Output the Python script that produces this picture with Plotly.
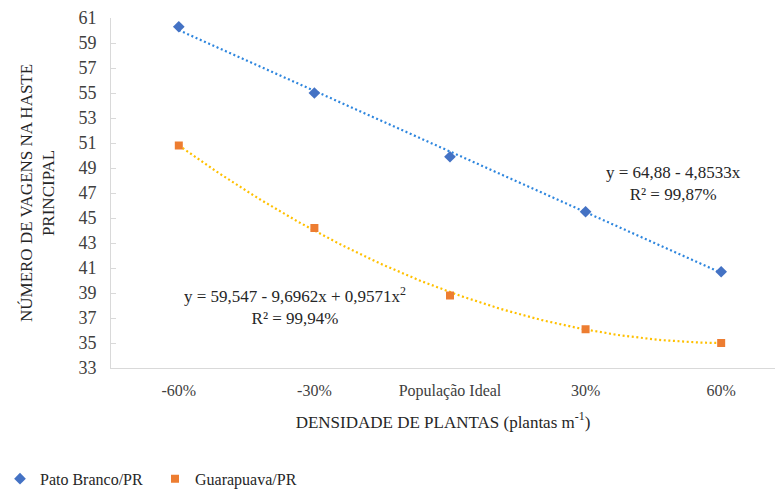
import numpy as np
import plotly.graph_objects as go

# Plant density treatments (category axis)
densidades = ["-60%", "-30%", "População Ideal", "30%", "60%"]

# Number of pods on the main stem, per location
pato_branco = [60.3, 55.0, 49.9, 45.5, 40.7]
guarapuava = [50.8, 44.2, 38.8, 36.1, 35.0]

# Fitted regression coefficients (x = 1..5 for the five densities)
coef_pato = (64.88, -4.8533)
coef_guara = (59.547, -9.6962, 0.9571)

eq_pato = "y = 64,88 - 4,8533x<br>R² = 99,87%"
eq_guara = "y = 59,547 - 9,6962x + 0,9571x<sup>2</sup><br>R² = 99,94%"
y_title = "NÚMERO DE VAGENS NA HASTE<br>PRINCIPAL"

y_ticks = list(range(33, 62, 2))

FONT = "Liberation Serif, Times New Roman, DejaVu Serif, serif"
BLUE_MK = "#4472C4"
ORANGE_MK = "#ED7D31"
BLUE_TR = "#2E86DE"
YELLOW_TR = "#FFC000"

pos = list(range(len(densidades)))
xs = np.linspace(1, 5, 121)
trend_pato = coef_pato[0] + coef_pato[1] * xs
trend_guara = coef_guara[0] + coef_guara[1] * xs + coef_guara[2] * xs ** 2

fig = go.Figure()
fig.add_trace(go.Scatter(x=xs - 1, y=trend_pato, mode="lines", showlegend=False,
                         hoverinfo="skip",
                         line=dict(color=BLUE_TR, width=2.2, dash="2px,2.6px")))
fig.add_trace(go.Scatter(x=xs - 1, y=trend_guara, mode="lines", showlegend=False,
                         hoverinfo="skip",
                         line=dict(color=YELLOW_TR, width=2.2, dash="2px,2.6px")))
fig.add_trace(go.Scatter(x=pos, y=pato_branco, mode="markers", name="Pato Branco/PR",
                         marker=dict(symbol="diamond", size=9, color=BLUE_MK)))
fig.add_trace(go.Scatter(x=pos, y=guarapuava, mode="markers", name="Guarapuava/PR",
                         marker=dict(symbol="square", size=8, color=ORANGE_MK)))

fig.add_annotation(x=3.65, y=47.8, xref="x", yref="y", text=eq_pato, showarrow=False,
                   font=dict(family=FONT, size=17, color="#262626"), align="center")
fig.add_annotation(x=0.86, y=38.0, xref="x", yref="y", text=eq_guara, showarrow=False,
                   font=dict(family=FONT, size=17, color="#262626"), align="center")

# Y-axis title placed beside the tick labels
fig.add_annotation(x=-0.1114, y=0.5, xref="paper", yref="paper", text=y_title,
                   textangle=-90, showarrow=False, xanchor="center", yanchor="middle",
                   font=dict(family=FONT, size=17, color="#262626"), align="center")

fig.update_layout(
    width=775, height=491,
    margin=dict(l=111, r=0, t=18, b=123),
    paper_bgcolor="white", plot_bgcolor="white",
    font=dict(family=FONT, color="#262626"),
    legend=dict(orientation="h", xref="container", yref="container",
                x=0.0, y=0.025, xanchor="left", yanchor="middle",
                font=dict(family=FONT, size=16, color="#262626"),
                entrywidth=110, entrywidthmode="pixels", tracegroupgap=0),
    xaxis=dict(range=[-0.5, 4.397], tickvals=pos, ticktext=densidades,
               showline=True, linecolor="#D9D9D9", linewidth=1,
               ticks="", showgrid=False, zeroline=False,
               tickfont=dict(family=FONT, size=16, color="#404040"),
               ticklabelstandoff=8,
               title=dict(text="DENSIDADE DE PLANTAS (plantas m<sup>-1</sup>)",
                          font=dict(family=FONT, size=17, color="#262626"),
                          standoff=16)),
    yaxis=dict(range=[33, 61], tickvals=y_ticks,
               showline=True, linecolor="#D9D9D9", linewidth=1,
               ticks="inside", ticklen=5, tickcolor="#D9D9D9",
               showgrid=False, zeroline=False,
               tickfont=dict(family=FONT, size=18, color="#404040"),
               ticklabelstandoff=10),
)

fig.write_html("out.html")
